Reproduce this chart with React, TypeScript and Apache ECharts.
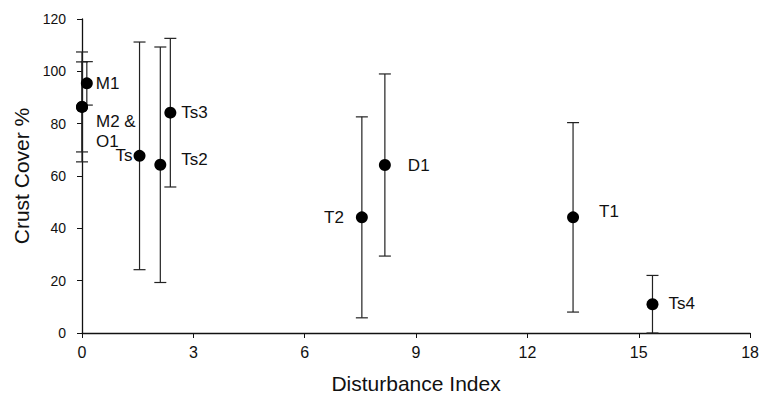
import React, { useEffect, useRef } from "react";
import * as echarts from "echarts";

const sites = ["M1", "M2", "O1", "Ts", "Ts2", "Ts3", "T2", "D1", "T1", "Ts4"];
const disturbance = [0.13, 0.0, 0.0, 1.55, 2.11, 2.38, 7.54, 8.16, 13.23, 15.37];
const crustCover = [95.4, 86.4, 86.4, 67.7, 64.3, 84.2, 44.2, 64.2, 44.2, 11.0];
const errorSD = [8.3, 21.0, 17.2, 43.5, 45.0, 28.4, 38.4, 34.8, 36.2, 11.0];
const pointLabels = ["M1", "M2 &\nO1", "", "Ts", "Ts2", "Ts3", "T2", "D1", "T1", "Ts4"];
const xTicks = [0, 3, 6, 9, 12, 15, 18];
const yTicks = [0, 20, 40, 60, 80, 100, 120];

// label placement: [position, distance, dx, dy]
const labelPlace: [string, number, number, number][] = [
  ["right", 3, 0, 0],
  ["right", 8, 0, 25],
  ["right", 0, 0, 0],
  ["left", 1, 0, 0],
  ["right", 15, 0, -5],
  ["right", 5, 0, 0],
  ["left", 12, 0, 0],
  ["right", 17, 0, 0],
  ["right", 20, 0, -6],
  ["right", 10, 0, -1],
];

export default function App() {
  const ref = useRef<HTMLDivElement>(null);
  useEffect(() => {
    if (!ref.current) return;
    const chart = echarts.init(ref.current, undefined, { renderer: "svg" });
    const errData = disturbance.map((x, i) => [
      x,
      Math.max(0, crustCover[i] - errorSD[i]),
      crustCover[i] + errorSD[i],
    ]);
    const pts = disturbance.map((x, i) => ({
      value: [x, crustCover[i]],
      label: {
        show: pointLabels[i] !== "",
        formatter: pointLabels[i],
        position: labelPlace[i][0] as any,
        distance: labelPlace[i][1],
        offset: [labelPlace[i][2], labelPlace[i][3]],
      },
    }));
    chart.setOption({
      animation: false,
      backgroundColor: "#ffffff",
      grid: { left: 82, right: 7, top: 19, bottom: 64, containLabel: false },
      xAxis: {
        type: "value",
        min: xTicks[0],
        max: xTicks[xTicks.length - 1],
        interval: 3,
        name: "Disturbance Index",
        nameLocation: "middle",
        nameGap: 40,
        nameTextStyle: { fontFamily: "Liberation Sans", fontSize: 21, color: "#111" },
        axisLine: { show: true, onZero: false, lineStyle: { color: "#111", width: 1.3 } },
        axisTick: { show: true, inside: false, length: 5, lineStyle: { color: "#111" } },
        axisLabel: { fontFamily: "Liberation Sans", fontSize: 16, color: "#111", margin: 11 },
        splitLine: { show: false },
      },
      yAxis: {
        type: "value",
        min: yTicks[0],
        max: yTicks[yTicks.length - 1],
        interval: 20,
        name: "Crust Cover %",
        nameLocation: "middle",
        nameGap: 47,
        nameTextStyle: { fontFamily: "Liberation Sans", fontSize: 21, color: "#111" },
        axisLine: { show: true, lineStyle: { color: "#111", width: 1.3 } },
        axisTick: { show: true, inside: false, length: 5, lineStyle: { color: "#111" } },
        axisLabel: { fontFamily: "Liberation Sans", fontSize: 14, color: "#111", margin: 16 },
        splitLine: { show: false },
      },
      series: [
        {
          type: "custom",
          data: errData,
          z: 1,
          renderItem: (params: any, api: any) => {
            const x = api.value(0);
            const lo = api.coord([x, api.value(1)]);
            const hi = api.coord([x, api.value(2)]);
            const w = 6;
            const style = { stroke: "#222", lineWidth: 1.2 };
            return {
              type: "group",
              children: [
                { type: "line", shape: { x1: lo[0], y1: lo[1], x2: hi[0], y2: hi[1] }, style },
                { type: "line", shape: { x1: hi[0] - w, y1: hi[1], x2: hi[0] + w, y2: hi[1] }, style },
                { type: "line", shape: { x1: lo[0] - w, y1: lo[1], x2: lo[0] + w, y2: lo[1] }, style },
              ],
            };
          },
        },
        {
          type: "scatter",
          data: pts,
          z: 3,
          symbol: "circle",
          symbolSize: 12,
          itemStyle: { color: "#000", opacity: 1 },
          label: {
            fontFamily: "Liberation Sans",
            fontSize: 17,
            color: "#111",
            lineHeight: 20,
          },
        },
      ],
    });
    return () => chart.dispose();
  }, []);
  return <div ref={ref} style={{ width: 762, height: 399, position: "absolute", left: 0, top: 0 }} />;
}
